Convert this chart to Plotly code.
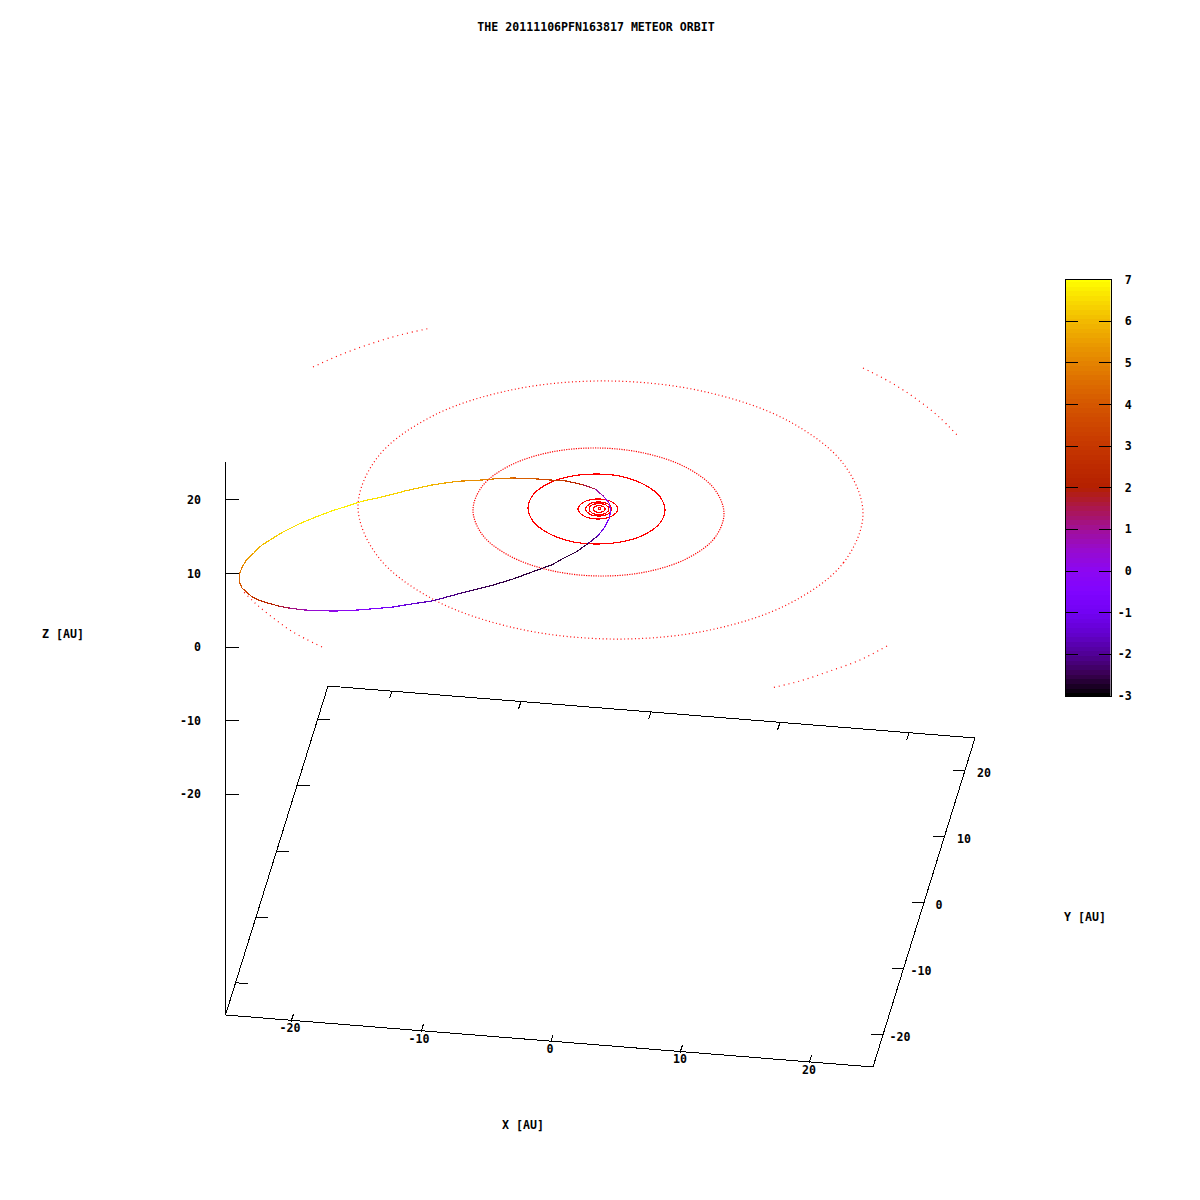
import numpy as np
import plotly.graph_objects as go
from plotly.colors import sample_colorscale

# All positions are in the chart's projected plane (gnuplot view of the 3-D scene).
TITLE = "THE 20111106PFN163817 METEOR ORBIT"

outer_arc_1 = [(313,367),(340,355),(370,344),(400,335),(431,328)]
outer_arc_2 = [(863,368),(890,382),(915,398),(938,416),(958,436)]
outer_arc_3 = [(887,646),(860,660),(830,671),(800,681),(771,688)]
outer_arc_4 = [(322,647),(293,632),(272,617),(255,603),(242,590)]

orbit_uranus = [(863,513.5),(843.5,562.7),(789,603.7),(707,630.6),(610.5,639),(514,627.8),(432,598.7),(377.5,556.1),
                (358,506.5),(377.5,457.3),(432,416.3),(514,389.4),(610.5,381),(707,392.2),(789,421.3),(843.5,463.9),(863,513.5)]
orbit_saturn = [(724,513.8),(714.5,538.1),(687.2,558.4),(646.5,571.8),(598.5,576),(550.5,570.4),(509.8,556),(482.5,534.9),
                (473,510.2),(482.5,485.9),(509.8,465.6),(550.5,452.2),(598.5,448),(646.5,453.6),(687.2,468),(714.5,489.1),(724,513.8)]
orbit_jupiter = [(665,510),(659.8,523.3),(644.9,534.4),(622.7,541.7),(596.5,544),(570.3,541.3),(548.1,533),(533.2,521.5),
                 (528,508),(533.2,494.7),(548.1,483.6),(570.3,476.3),(596.5,474),(622.7,476.7),(644.9,485),(659.8,496.5),(665,510)]
ring_a = [(618,509),(612,516),(598,519),(584,516),(578,509),(584,502),(598,499),(612,502),(618,509)]
ring_b = [(611.7,509),(608,514),(598.7,516),(589.5,514),(585.7,509),(589.5,504),(598.7,502),(608,504),(611.7,509)]
ring_c = [(609,509),(606,513),(599,514.7),(592,513),(589,509),(592,505),(599,503.7),(606,505),(609,509)]
ring_d = [(605.3,509),(603.5,511.3),(599.3,512.3),(595,511.3),(593.3,509),(595,506.7),(599.3,505.7),(603.5,506.7),(605.3,509)]
ring_e = [(600.5,508.5),(599.5,509.2),(598.5,508.5),(599.5,507.8),(600.5,508.5)]

# meteor orbit: screen x, screen y, colour value (Y [AU])
meteor_x = [610.7,609.3,605,601,596.7,588.3,576.7,563.3,551.7,543,528,513,490,470,458,445,432,418,405,393,382,370,358,346,335,322,308,302,288.7,278.7,268.7,260.3,252,246,242,239.3,239.7,242.7,247,253.7,262,270,281.7,298.3,315,331.7,348.3,363.3,382,405,432,445,458,482,495,513,538,550,566.7,583.3,595,603.3,609.3,610.7]
meteor_y = [511.7,518.3,526.7,532,536.7,543.3,551.7,558.3,565,568,573.5,579,586,591,594,597.5,601,603,605,607,608,609,610,610.7,611,610.8,610.2,609.7,608,606,603.3,600.7,596.7,591.7,588,581.7,573,566,559.3,552.7,545,540,532.7,524.3,517.3,511,505.7,501,497,491,485,483,481.3,480,478.8,478,479,480,481,485,489,496,503.3,511.7]
meteor_v = [-0.2,-0.5,-0.9,-1.3,-1.8,-2.5,-2.6,-2.6,-2.6,-2.6,-2.6,-2.6,-2.5,-2.4,-2.2,-2.0,-1.8,-1.5,-1.3,-1.0,-0.7,-0.4,-0.2,0.0,0.1,0.3,0.6,0.9,1.3,1.9,2.3,2.7,3.1,3.4,3.8,4.1,4.6,5.0,5.4,5.7,6.0,6.2,6.4,6.6,6.7,6.8,6.8,6.7,6.5,6.3,5.9,5.7,5.4,5.0,4.8,4.5,3.8,3.4,2.8,2.0,1.2,0.5,0.0,-0.2]

frame_corners = [(225.5,1015),(873,1067),(975,738),(328,686),(225.5,1015)]
z_axis_line = [(225.5,462),(225.5,1015)]
z_ticks = [(225.5,499.5,238.5),(225.5,573,238.5),(225.5,647,238.5),(225.5,720.5,238.5),(225.5,794,238.5)]
x_tick_front = [(291,1021.5,293.5,1014),(421,1032,423.5,1024),(550.5,1042.5,553,1035),(680,1052.5,682.5,1045),(809,1063,811.5,1055.5)]
x_tick_back = [(392,691,389.5,698.5),(521,701.5,518.5,709),(651,712,648.5,719.5),(780,722.5,777.5,730),(909,733,906.5,740.5)]
y_tick_left = [(235.7,982.7,247.7,983.7),(256,917,268,918),(277,851,289,852),(297.5,785,309.5,786),(318,719,330,720)]
y_tick_right = [(883,1035,871,1034),(903.7,969,891.7,968),(924,903,912,902),(944.5,837,932.5,836),(965,771,953,770)]

z_labels = ["20","10","0","-10","-20"]
z_label_y = [501,575,648,722,795]
x_labels = ["-20","-10","0","10","20"]
x_label_x = [290,419,550,680,809]
x_label_y = [1029,1040,1050,1060,1071]
y_labels = ["-20","-10","0","10","20"]
y_label_x = [900,921,939,964,984]
y_label_y = [1038,972,906,840,774]
axis_titles = ["X [AU]","Y [AU]","Z [AU]"]
axis_title_x = [523,1085,63]
axis_title_y = [1126,918,635]

cb_ticks = [-3,-2,-1,0,1,2,3,4,5,6,7]
cb_ticktext = ["-3","-2","-1","\u00a00","\u00a01","\u00a02","\u00a03","\u00a04","\u00a05","\u00a06","\u00a07"]
cb_bands = list(np.linspace(-3,7,90))

palette = [[0,"#000000"],[.05,"#39004f"],[.1,"#510096"],[.15,"#6301ce"],[.2,"#7202f3"],[.25,"#8004ff"],[.3,"#8c07f2"],[.35,"#970bce"],
           [.4,"#a11096"],[.45,"#ab174f"],[.5,"#b42000"],[.55,"#bd2a00"],[.6,"#c63700"],[.65,"#ce4600"],[.7,"#d55700"],[.75,"#dd6c00"],
           [.8,"#e48300"],[.85,"#eb9d00"],[.9,"#f2ba00"],[.95,"#f9db00"],[1,"#ffff00"]]

FONT = dict(family="DejaVu Sans Mono", size=11.6, color="black", weight="bold")
RED = "#ff0000"

def xs(p): return [q[0] for q in p]
def ys(p): return [q[1] for q in p]
def seg(lst):
    X, Y = [], []
    for a,b,c,d in lst:
        X += [a,c,None]; Y += [b,d,None]
    return X, Y

fig = go.Figure()

# planetary orbits
for p, dash, w in [(outer_arc_1,"1px,4px",1.2),(outer_arc_2,"1px,4px",1.2),(outer_arc_3,"1px,4px",1.2),(outer_arc_4,"1px,4px",1.2),
                   (orbit_uranus,"1px,2.6px",1.2),(orbit_saturn,"1.2px,1.2px",1.2),(orbit_jupiter,None,1.2),
                   (ring_a,None,1.2),(ring_b,None,1.2),(ring_c,None,1.2),(ring_d,None,1.2),(ring_e,None,1.2)]:
    fig.add_trace(go.Scatter(x=xs(p), y=ys(p), mode="lines", showlegend=False, hoverinfo="skip",
                             line=dict(color=RED, width=w, dash=dash, shape="spline", smoothing=1.0)))

# meteor orbit, one segment per colour step
for i in range(len(meteor_x)-1):
    v = (meteor_v[i]+meteor_v[i+1])/2
    col = sample_colorscale(palette, [(v+3)/10])[0]
    fig.add_trace(go.Scatter(x=meteor_x[i:i+2], y=meteor_y[i:i+2], mode="lines", showlegend=False, hoverinfo="skip",
                             line=dict(color=col, width=1.2)))

# box and axes
LINE = dict(color="black", width=1)
fig.add_trace(go.Scatter(x=xs(frame_corners), y=ys(frame_corners), mode="lines", line=LINE, showlegend=False, hoverinfo="skip"))
fig.add_trace(go.Scatter(x=xs(z_axis_line), y=ys(z_axis_line), mode="lines", line=LINE, showlegend=False, hoverinfo="skip"))
zx, zy = [], []
for a,b,c in z_ticks:
    zx += [a,c,None]; zy += [b,b,None]
fig.add_trace(go.Scatter(x=zx, y=zy, mode="lines", line=LINE, showlegend=False, hoverinfo="skip"))
for lst in (x_tick_front, x_tick_back, y_tick_left, y_tick_right):
    X, Y = seg(lst)
    fig.add_trace(go.Scatter(x=X, y=Y, mode="lines", line=LINE, showlegend=False, hoverinfo="skip"))

# tick labels and axis names
fig.add_trace(go.Scatter(x=[201]*len(z_labels), y=z_label_y, text=z_labels, mode="text", textposition="middle left",
                         textfont=FONT, showlegend=False, hoverinfo="skip"))
for X, Y, T in [(x_label_x,x_label_y,x_labels),(y_label_x,y_label_y,y_labels),(axis_title_x,axis_title_y,axis_titles)]:
    fig.add_trace(go.Scatter(x=X, y=Y, text=T, mode="text", textposition="middle center",
                             textfont=FONT, showlegend=False, hoverinfo="skip"))

# colour box
fig.add_trace(go.Heatmap(x=[0,1], y=cb_bands, z=[[v,v] for v in cb_bands], colorscale=palette, zmin=-3, zmax=7,
                         showscale=False, xaxis="x2", yaxis="y2", hoverinfo="skip"))

cb_axis = dict(range=[-3,7], tickvals=cb_ticks, ticks="inside", ticklen=12, tickcolor="black", tickwidth=1,
               showgrid=False, zeroline=False, showline=True, linecolor="black", linewidth=1,
               domain=[(1200-696)/1200,(1200-279.5)/1200])

fig.update_layout(
    width=1200, height=1200, margin=dict(l=0,r=0,t=0,b=0,autoexpand=False), paper_bgcolor="white", plot_bgcolor="white",
    title=dict(text=TITLE, x=596/1200, y=1-27/1200, xanchor="center", yanchor="middle", font=FONT),
    xaxis=dict(range=[0,1200], domain=[0,1], visible=False),
    yaxis=dict(range=[1200,0], domain=[0,1], visible=False),
    xaxis2=dict(range=[0,1], domain=[1065.5/1200,1110.5/1200], anchor="y2", showticklabels=False, ticks="",
                showgrid=False, zeroline=False, showline=True, linecolor="black", linewidth=1, mirror=True),
    yaxis2=dict(anchor="x2", side="right", ticktext=cb_ticktext, tickmode="array", tickfont=FONT, ticklabelstandoff=4, **cb_axis),
    yaxis3=dict(anchor="x2", side="left", overlaying="y2", showticklabels=False, **cb_axis),
)
fig.add_trace(go.Scatter(x=[0], y=[-3], mode="markers", marker=dict(opacity=0), xaxis="x2", yaxis="y3", showlegend=False, hoverinfo="skip"))
fig.write_html("out.html", config=dict(displayModeBar=False),
               post_script="document.body.style.margin='0';document.querySelectorAll('.scatterlayer path').forEach(function(p){if(!p.style.strokeDasharray||p.style.strokeDasharray==='none'){p.style.shapeRendering='crispEdges';}});")
